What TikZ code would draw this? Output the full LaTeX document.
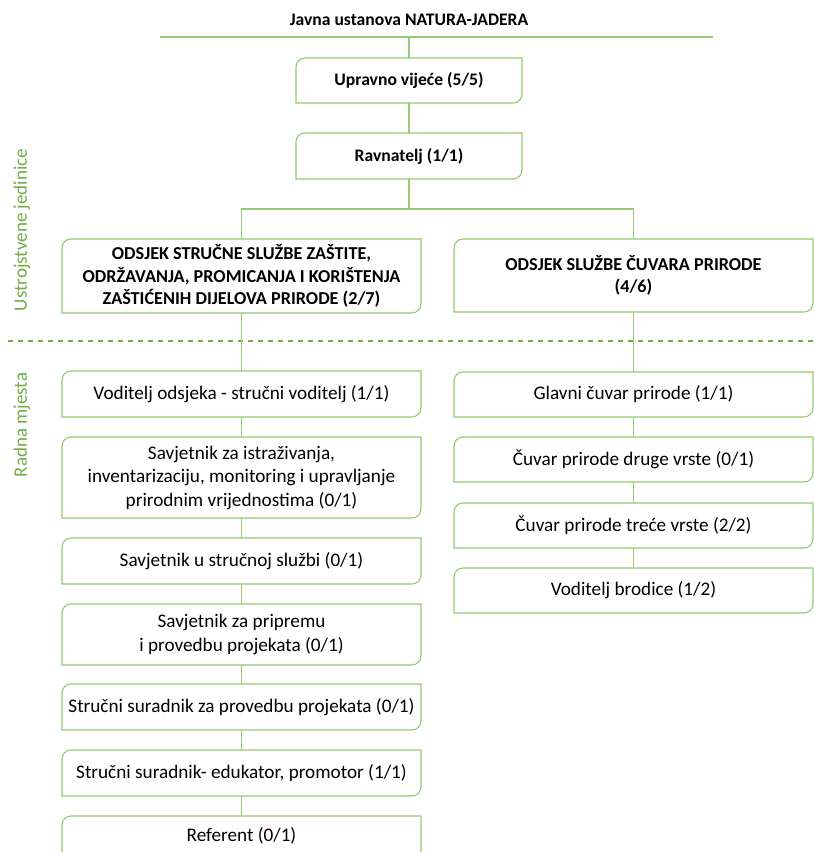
\documentclass[tikz,border=0pt]{standalone}
\usepackage{fontspec}
\setmainfont{Carlito}
\usetikzlibrary{fit}
\definecolor{lg}{RGB}{150,202,115}
\definecolor{dg}{RGB}{112,173,71}
\tikzset{
  boxline/.style={draw=lg, line width=1.1pt, fill=white},
  conn/.style={draw=lg, line width=1.1pt},
  sep/.style={draw=dg, line width=2pt, dash pattern=on 5pt off 5pt},
  txt/.style={font=\fontsize{19.2}{23.5}\selectfont, align=center, inner sep=0pt},
  btxt/.style={font=\fontsize{17.6}{22.5}\selectfont\bfseries, align=center, inner sep=0pt},
  dtxt/.style={font=\fontsize{18.2}{22.5}\selectfont\bfseries, align=center, inner sep=0pt},
  side/.style={font=\fontsize{19}{22}\selectfont, text=dg, rotate=90},
  holder/.style={inner sep=0pt},
}
% name, x1, y1 (top), x2, y2 (bottom), style, text
\newcommand\obox[7]{%
  \path[boxline] (#2,#5) -- (#2,#3+9) .. controls (#2,#3+4) and (#2+4,#3) .. (#2+9,#3)
    -- (#4,#3) -- (#4,#5-9) .. controls (#4,#5-4) and (#4-4,#5) .. (#4-9,#5) -- cycle;
  \coordinate (#1nw) at (#2,#3);
  \coordinate (#1se) at (#4,#5);
  \node[holder, fit=(#1nw)(#1se)] (#1) {};
  \node[#6] (#1t) at (#1.center) {#7};
}
\begin{document}
\begin{tikzpicture}[x=1pt,y=-1pt]
\useasboundingbox (0,0) rectangle (814,852);
\clip (0,0) rectangle (814,852);
\fill[white] (0,0) rectangle (814,852);

% title
\node[btxt] (title) at (409,20) {Javna ustanova NATURA-JADERA};
\coordinate (tl) at (160,37);
\coordinate (tr) at (713,37);
\coordinate (tm) at (409,37);
\draw[conn] (tl) -- (tr);

% separator
\coordinate (sl) at (8,341);
\coordinate (sr) at (814,341);
\draw[sep] (sl) -- (sr);

% side labels
\node[side] (lab1) at (22,230) {Ustrojstvene jedinice};
\node[side] (lab2) at (22,425) {Radna mjesta};

% top boxes
\obox{upr}{296}{58}{522}{103}{btxt}{Upravno vijeće (5/5)}
\obox{rav}{296}{133}{522}{179}{btxt}{Ravnatelj (1/1)}

% departments
\obox{dl}{62}{239}{421}{313}{dtxt}{ODSJEK STRUČNE SLUŽBE ZAŠTITE,\\ODRŽAVANJA, PROMICANJA I KORIŠTENJA\\ZAŠTIĆENIH DIJELOVA PRIRODE (2/7)}
\obox{dr}{454}{239}{813}{312}{dtxt}{ODSJEK SLUŽBE ČUVARA PRIRODE\\(4/6)}

% left column
\obox{l1}{62}{371}{421}{417}{txt}{Voditelj odsjeka - stručni voditelj (1/1)}
\obox{l2}{62}{437}{421}{518}{txt}{Savjetnik za istraživanja,\\inventarizaciju, monitoring i upravljanje\\prirodnim vrijednostima (0/1)}
\obox{l3}{62}{538}{421}{584}{txt}{Savjetnik u stručnoj službi (0/1)}
\obox{l4}{62}{604}{421}{665}{txt}{Savjetnik za pripremu\\i provedbu projekata (0/1)}
\obox{l5}{62}{684}{421}{730}{txt}{Stručni suradnik za provedbu projekata (0/1)}
\obox{l6}{62}{750}{421}{796}{txt}{Stručni suradnik- edukator, promotor (1/1)}
\path[boxline] (62,870) -- (62,825) .. controls (62,820) and (66,816) .. (71,816) -- (421,816) -- (421,870) -- cycle;
\coordinate (l7nw) at (62,816);
\node[txt] (l7) at (241.5,836) {Referent (0/1)};

% right column
\obox{r1}{454}{372}{813}{417}{txt}{Glavni čuvar prirode (1/1)}
\obox{r2}{454}{437}{813}{482}{txt}{Čuvar prirode druge vrste (0/1)}
\obox{r3}{454}{503}{813}{548}{txt}{Čuvar prirode treće vrste (2/2)}
\obox{r4}{454}{568}{813}{613}{txt}{Voditelj brodice (1/2)}

% connectors
\coordinate (br) at (409,209);
\draw[conn] (tm) -- (upr);
\draw[conn] (upr) -- (rav);
\draw[conn] (rav) -- (br);
\draw[conn] (dl.north) |- (br) -| (dr.north);
\draw[conn] (dl) -- (l1);
\draw[conn] (l1) -- (l2);
\draw[conn] (l2) -- (l3);
\draw[conn] (l3) -- (l4);
\draw[conn] (l4) -- (l5);
\draw[conn] (l5) -- (l6);
\draw[conn] (l6.south) -- (l6.south |- l7nw);
\draw[conn] (dr) -- (r1);
\draw[conn] (r1) -- (r2);
\draw[conn] (r2) -- (r3);
\draw[conn] (r3) -- (r4);
\end{tikzpicture}
\end{document}
